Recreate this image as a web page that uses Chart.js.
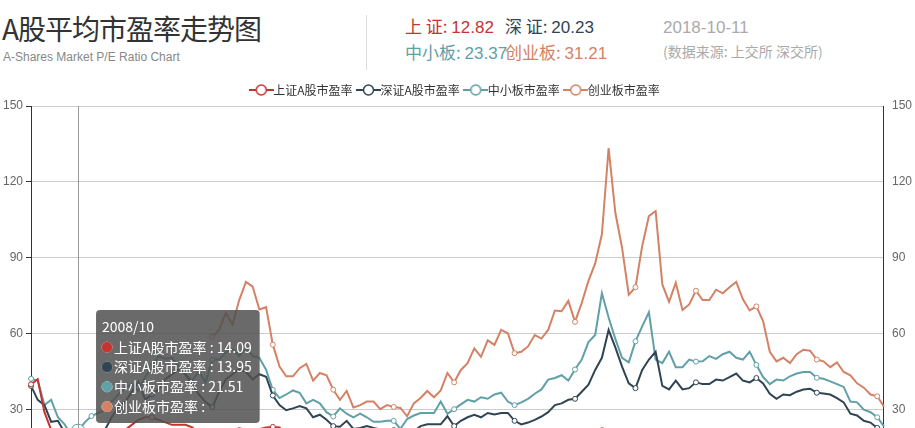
<!DOCTYPE html>
<html>
<head>
<meta charset="utf-8">
<script src="https://cdn.jsdelivr.net/npm/chart.js@4/dist/chart.umd.min.js"></script>
<style>
  body { margin:0; width:915px; height:428px; overflow:hidden; background:#fff; font-family:"Noto Sans CJK SC","Noto Sans",sans-serif; position:relative; }
  .title { position:absolute; left:2px; top:8px; font-size:28px; color:#333; letter-spacing:-1px; }
  .sub { position:absolute; left:3px; top:50px; font-size:12px; color:#888; font-family:"Liberation Sans",sans-serif; }
  .divider { position:absolute; left:366px; top:15px; width:1px; height:55px; background:#ddd; }
  .stat { position:absolute; font-size:17px; white-space:nowrap; }
  .stat span { font-family:"Liberation Sans",sans-serif; }
  #wrap { position:absolute; left:0; top:74px; width:915px; height:440px; }
</style>
</head>
<body>
<div class="title">A股平均市盈率走势图</div>
<div class="sub">A-Shares Market P/E Ratio Chart</div>
<div class="divider"></div>
<div class="stat" style="left:405px;top:13px;color:#c23531">上 证: <span id="sh"></span></div>
<div class="stat" style="left:505px;top:13px;color:#2f4554">深 证: <span id="sz"></span></div>
<div class="stat" style="left:663px;top:13px;color:#aaa"><span>2018-10-11</span></div>
<div class="stat" style="left:405px;top:39px;color:#61a0a8">中小板: <span id="sme"></span></div>
<div class="stat" style="left:505px;top:39px;color:#d48265">创业板: <span id="gem"></span></div>
<div class="stat" style="left:663px;top:41px;color:#aaa;font-size:14px">(数据来源: 上交所 深交所)</div>
<div id="wrap"><canvas id="peChart"></canvas></div>
<script>
const seriesNames = ['上证A股市盈率', '深证A股市盈率', '中小板市盈率', '创业板市盈率'];
const seriesColors = ['#c23531', '#2f4554', '#61a0a8', '#d48265'];
const yTicks = [0, 30, 60, 90, 120, 150];

// months 2008/03 .. 2018/10
const months = [];
for (let y = 2008, m = 3; y < 2018 || (y === 2018 && m <= 10); m++) {
  if (m > 12) { m = 1; y++; }
  months.push(y + '/' + (m < 10 ? '0' + m : m));
}
months[7] = '2008/10';

const shanghai = [40,42,29,22,21,19,16,14.09,13,13,14,15,17,19,22,24,26,27,27,26,25,24,24,24,23,21,20.4,21,22,22,21.5,22.6,22,22,22.3,23,23.2,23,20,18,17,16,15.5,15,15,14.5,14,14,13.5,13,13,12.8,12.5,12.2,12,11.8,11.5,11.5,11.2,11,11,11.5,12,12,12.2,12.5,12.8,12.5,12.3,12.5,12.8,13,12.6,12.4,12.2,12.5,13,13.5,14,14.5,15,15.5,16.5,18,21,22.6,22,21.5,20,17,16.5,16,16.2,16.5,16,15.5,15.5,15.8,16,16,15.8,16,16.2,16.5,16.8,17,17.2,17,16.8,16.5,15.8,15,14.8,15,15.2,15.3,15.5,15.3,15,14.8,14.5,14.3,14,13.6,13.4,13.2,13,12.82];
const shenzhen = [39.4,33.9,31.8,25.2,25.6,21,17,13.95,12,13,16,22,27,31,33,37,41,34,36,38,42,44,46,44,40,36,33,31,37,42,44,46,45,42,44,43,35.6,31.8,29.8,30.5,31.4,30.5,27,28,26,23.5,23.3,25.6,22.4,22.8,23.5,22.8,22.2,21.9,21.9,21,19,21.5,23.5,24.2,24.2,24.2,27.4,23.5,25.6,27,28,27,28.7,28.1,28.7,28.7,25.6,24.2,24.9,26,27.3,29,31.8,32.5,33.9,34.3,37.1,39.9,45.7,50.5,61.5,54.6,47,40.4,38.5,45.7,49.8,52.9,39.4,38,41.5,38,38.5,40.8,40.1,40.1,41.9,41.5,42.9,44.3,41.5,40.8,42.5,40.4,36.3,34.3,36,35.7,37.1,38,38.3,36.7,36.4,36,34.6,32.9,28.4,27.7,25.6,24.9,22.8,20.23];
const sme = [42.2,41.5,31.8,33.9,27,24.2,20,21.51,25,27.5,28.7,29.8,33.2,36,38.7,40.1,37.4,42.9,47,51.2,50.1,50.5,47,43.6,41.5,45,40.8,49.8,49.8,52.6,54,51.2,54.2,51.2,50.5,45.8,37.8,34.6,36,37.6,36.7,32.5,33.9,32.5,29,27.3,30.5,28.4,27,28.4,27,25.2,25.2,25.6,25.6,22.4,26.3,27.7,28.7,28.7,28.7,33.2,28.4,30.2,32.1,33.9,33.2,34.9,34.3,36,36.7,33.2,31.8,32.9,34.3,36.3,38,41.9,42.5,43.6,41.5,45.9,49.8,56.7,59.5,76,66.4,58,50.5,48.7,57,62.9,68.5,49.8,48.4,52.9,46.8,46.8,49.8,49,49.1,51.2,50.1,51.9,52.9,50.5,49.8,52.9,47.7,42.9,40.1,41.9,41.5,43.2,44.3,44.9,44.9,42.6,42.2,41.2,40.1,39,33.2,32.9,30,29,27,23.37];
const gem = [null,null,null,null,null,null,null,null,null,null,null,null,null,null,null,null,null,null,null,null,null,null,null,null,null,null,null,
  58.8,61.5,68.2,63.6,73.3,80.5,78.6,69.6,70.5,55.7,47,43.2,43.2,46.4,48.1,41.5,44.5,43.6,37.9,33.9,37.4,30.9,31.8,33.2,33.2,30.2,31.8,31.1,30.7,27.4,32.5,34.6,37.4,34.9,37.6,44.5,40.8,45.7,48.4,54.2,50.9,57.4,55.6,61.5,60.2,52.3,52.9,55,59.5,58.1,61.5,69.2,68.9,73,64.7,72.2,80.9,87.8,99.3,133.4,107.8,94,75.4,78.4,94.7,106.5,108.5,79.5,72.6,80.2,69.4,71.6,77,73.3,73.3,77.4,76,78.4,80.5,73.6,69.2,70.8,65,52.9,49.1,50.5,48.4,51.9,53.7,53.3,49.8,49.1,46.8,48.7,44.9,43.6,40.4,38.7,36,35.3,31.21];
const hoverIndex = 7;

const seriesData = [shanghai, shenzhen, sme, gem];
const last = a => a[a.length - 1].toFixed(2);
document.getElementById('sh').innerText = last(shanghai);
document.getElementById('sz').innerText = last(shenzhen);
document.getElementById('sme').innerText = last(sme);
document.getElementById('gem').innerText = last(gem);

// legend icon: line with hollow circle
function legendIcon(color) {
  const c = document.createElement('canvas');
  c.width = 25; c.height = 14;
  const g = c.getContext('2d');
  g.strokeStyle = color; g.lineWidth = 2;
  g.beginPath(); g.moveTo(0, 7); g.lineTo(25, 7); g.stroke();
  g.fillStyle = '#fff'; g.lineWidth = 1.5;
  g.beginPath(); g.arc(12.5, 7, 5, 0, Math.PI * 2); g.fill(); g.stroke();
  return c;
}

Chart.Tooltip.positioners.side = function (items) {
  if (!items.length) return false;
  const el = items.find(i => !isNaN(i.element.x)) || items[0];
  return { x: el.element.x + 22, y: 234 };
};

const crosshair = {
  id: 'crosshair',
  afterDatasetsDraw(chart) {
    const meta = chart.getDatasetMeta(2);
    const x = meta.data[hoverIndex].x;
    const { ctx, chartArea } = chart;
    ctx.save();
    ctx.strokeStyle = '#999'; ctx.lineWidth = 1;
    ctx.beginPath(); ctx.moveTo(Math.round(x) + 0.5, chartArea.top); ctx.lineTo(Math.round(x) + 0.5, chartArea.bottom); ctx.stroke();
    ctx.restore();
  }
};

const chart = new Chart(document.getElementById('peChart'), {
  type: 'line',
  data: {
    labels: months,
    datasets: seriesData.map((d, i) => ({
      label: seriesNames[i],
      data: d,
      borderColor: seriesColors[i],
      backgroundColor: seriesColors[i],
      borderWidth: 2,
      tension: 0,
      pointRadius: ctx => ctx.dataIndex % 9 === 0 ? 2.5 : 0,
      pointBackgroundColor: '#fff',
      pointBorderColor: seriesColors[i],
      pointBorderWidth: 1,
      pointHoverRadius: 7,
      pointHoverBackgroundColor: '#fff',
      pointHoverBorderWidth: 1,
      spanGaps: false
    }))
  },
  options: {
    responsive: true,
    maintainAspectRatio: false,
    animation: false,
    events: [],
    layout: { padding: { left: 0, right: 0, top: 0 } },
    scales: {
      x: {
        grid: { display: false },
        border: { color: '#333' },
        ticks: { color: '#666', maxRotation: 0, autoSkip: true, maxTicksLimit: 12 },
        offset: false
      },
      y: {
        min: 0, max: 150,
        afterBuildTicks: ax => { ax.ticks = yTicks.map(v => ({ value: v })); },
        grid: { color: '#ccc', drawTicks: true, tickColor: '#333', tickLength: 5 },
        border: { color: '#333' },
        ticks: { color: '#666', font: { size: 12 }, padding: 3 }
      },
      y2: {
        position: 'right', min: 0, max: 150,
        afterBuildTicks: ax => { ax.ticks = yTicks.map(v => ({ value: v })); },
        grid: { display: false, drawTicks: true, tickColor: '#333', tickLength: 5 },
        border: { color: '#333' },
        ticks: { color: '#666', font: { size: 12 }, padding: 3 }
      }
    },
    plugins: {
      legend: {
        labels: {
          color: '#333',
          font: { size: 12, family: '"Noto Sans CJK SC"' },
          usePointStyle: true,
          padding: 10,
          generateLabels: ch => ch.data.datasets.map((ds, i) => ({
            text: ds.label, pointStyle: legendIcon(seriesColors[i]), fontColor: '#333',
            strokeStyle: seriesColors[i], fillStyle: '#fff', datasetIndex: i, lineWidth: 0
          }))
        }
      },
      tooltip: {
        position: 'side',
        xAlign: 'left', yAlign: 'top',
        caretSize: 0,
        backgroundColor: 'rgba(80,80,80,0.85)',
        cornerRadius: 4,
        padding: { left: 6, right: 8, top: 8, bottom: 8 },
        titleFont: { size: 14, weight: 'normal', family: '"Noto Sans CJK SC"' },
        bodyFont: { size: 14, family: '"Noto Sans CJK SC"' },
        titleMarginBottom: 4,
        bodySpacing: 3,
        usePointStyle: true,
        boxWidth: 10, boxHeight: 10,
        filter: () => true,
        callbacks: {
          label: c => seriesNames[c.datasetIndex] + ' : ' + (c.raw == null ? '' : c.raw),
          labelColor: c => ({ borderColor: seriesColors[c.datasetIndex], backgroundColor: seriesColors[c.datasetIndex] }),
          labelPointStyle: () => ({ pointStyle: 'circle', rotation: 0 })
        }
      }
    }
  },
  plugins: [crosshair]
});

const active = [0, 1, 2, 3].map(i => ({ datasetIndex: i, index: hoverIndex }));
chart.setActiveElements([{ datasetIndex: 2, index: hoverIndex }]);
chart.tooltip.setActiveElements(active, { x: 0, y: 0 });
chart.update();
</script>
</body>
</html>
